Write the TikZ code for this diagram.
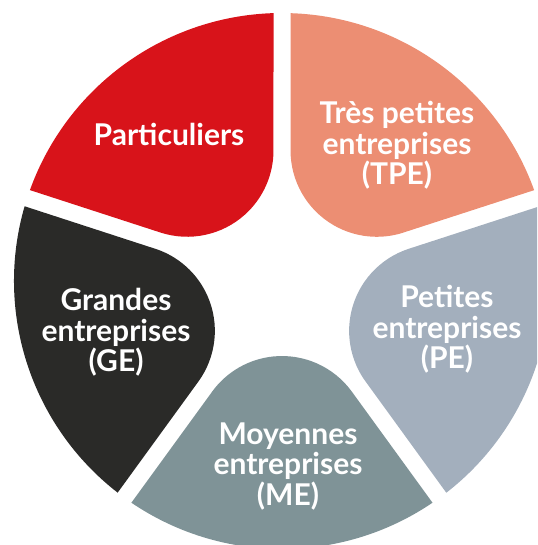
\documentclass[tikz,border=0pt]{standalone}
\usepackage{fontspec}
\setmainfont{Lato}
\usepackage{tikz}
\definecolor{partred}{HTML}{D8131A}
\definecolor{tpesalmon}{HTML}{EC8E73}
\definecolor{pegrey}{HTML}{A3AFBD}
\definecolor{megrey}{HTML}{7F9397}
\definecolor{geblack}{HTML}{2A2A28}
\tikzset{
  segtext/.style={text=white,align=center,anchor=base,inner sep=0pt,
    font=\fontsize{30}{30.5}\selectfont\bfseries}
}
\newcommand{\Segment}[2]{%
  \fill[#2,rotate=#1] (110.6,-69.8) -- (221.7,-150.6)
    arc[start angle=-34.18,end angle=34.18,radius=268pt] -- (110.6,69.8)
    arc[start angle=126,end angle=234,radius=86.3pt] -- cycle;}

\begin{document}
\begin{tikzpicture}[x=1pt,y=1pt]
    \useasboundingbox (-282,-264) rectangle (255,281);
    \clip (-282,-264) rectangle (255,281);
    \Segment{126}{partred}
    \Segment{54}{tpesalmon}
    \Segment{-18}{pegrey}
    \Segment{-90}{megrey}
    \Segment{198}{geblack}

    \node[segtext] (part) at (-113,135.5) {Particuliers};
    \node[segtext] (tpe) at (115,96) {Très petites\\entreprises\\(TPE)};
    \node[segtext] (pe) at (165,-88) {Petites\\entreprises\\(PE)};
    \node[segtext] (ge) at (-166,-91) {Grandes\\entreprises\\(GE)};
    \node[segtext] (me) at (6,-224) {Moyennes\\entreprises\\(ME)};
\end{tikzpicture}
\end{document}
